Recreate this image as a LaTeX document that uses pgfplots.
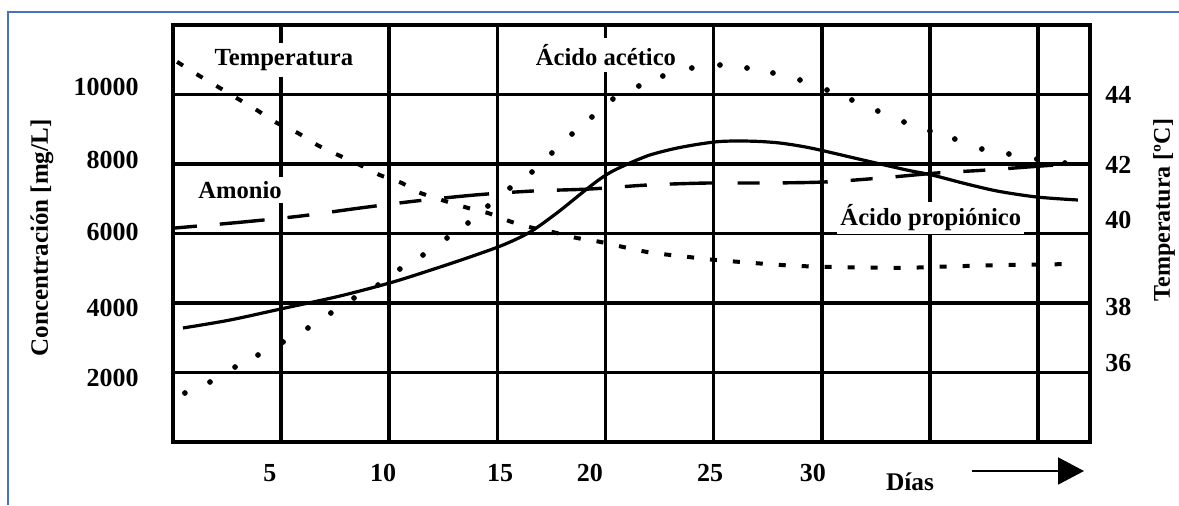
\documentclass[border=0pt]{standalone}
\usepackage{fontspec}
\setmainfont{Liberation Serif}
\usepackage{pgfplots}
\pgfplotsset{compat=1.18}
\usetikzlibrary{arrows.meta}
\definecolor{frameblue}{RGB}{68,114,196}

\pgfplotstableread{
x y
0.46 3281
2.64 3511
5.18 3856
7.72 4201
10.17 4604
12.21 5007
13.73 5324
15.26 5669
16.51 6043
17.75 6590
18.96 7194
19.74 7568
20.34 7799
21.13 8029
22.05 8259
23.21 8446
24.36 8576
25.29 8648
26.21 8662
27.14 8648
28.06 8604
28.99 8518
29.91 8403
31.90 8115
33.93 7827
35.09 7684
36.52 7453
38.10 7223
39.94 7050
41.84 6964
}\propionico

\pgfplotstableread{
x y
0.09 6158
3.24 6331
5.92 6504
8.65 6734
11.23 6935
13.96 7108
16.64 7223
19.28 7281
21.96 7396
24.73 7453
27.37 7453
30.10 7482
32.73 7597
35.32 7741
37.63 7827
40.78 7971
41.84 8000
}\amonio

\pgfplotstableread{
x y
0.55 1410
1.71 1727
2.87 2158
3.93 2504
5.09 2878
6.24 3281
7.30 3712
8.37 4144
9.48 4518
10.49 4978
11.56 5381
12.67 5871
13.64 6302
14.56 6791
15.58 7309
16.60 7770
17.52 8317
18.45 8863
19.37 9353
20.34 9870
21.54 10245
22.65 10532
23.99 10763
25.29 10849
26.54 10763
27.74 10619
28.99 10417
30.24 10130
31.39 9842
32.59 9525
33.80 9209
35.00 8950
36.15 8719
37.40 8432
38.65 8288
39.94 8144
41.24 8029
}\acetico

\pgfplotstableread{
x y
0.19 44.94
1.16 44.56
2.08 44.22
3.10 43.84
3.88 43.55
4.81 43.18
5.78 42.89
6.66 42.55
7.63 42.26
8.55 42.00
9.57 41.68
10.59 41.45
11.42 41.17
13.50 40.76
14.56 40.59
15.67 40.33
16.64 40.16
17.57 40.04
18.68 39.87
19.74 39.76
21.91 39.47
23.90 39.32
25.06 39.24
28.20 39.09
30.24 39.04
33.61 39.01
35.23 39.04
38.23 39.09
41.47 39.12
}\temperatura

\begin{document}
\begin{tikzpicture}
\useasboundingbox (0,0) rectangle (589.5pt,252.5pt);
\draw[frameblue, line width=1pt] (4pt,0) -- (4pt,246.5pt) -- (589.5pt,246.5pt);

\begin{axis}[
  at={(86.5pt,31.5pt)}, anchor=south west,
  scale only axis, width=458.5pt, height=208.5pt,
  xmin=0, xmax=42.4, ymin=0, ymax=12000,
  axis line style={line width=2.1pt},
  xtick={5,10,...,40}, xticklabels={},
  ytick={2000,4000,...,10000}, yticklabels={},
  scaled ticks=false,
  grid=major, major grid style={black, line width=1.8pt},
  major tick length=0pt,
  tick label style={font=\fontsize{13}{13}\selectfont\bfseries, inner sep=0pt},
  extra x ticks={4.48,9.71,15.13,19.28,24.83,29.59},
  extra x tick labels={5,10,15,20,25,30},
  extra x tick style={grid=none, xticklabel style={anchor=center, yshift=-15.5pt}},
  extra y ticks={1842,3856,6043,8115,10216},
  extra y tick labels={2000,4000,6000,8000,10000},
  extra y tick style={grid=none, yticklabel style={anchor=east, xshift=-17pt}},
  clip=false,
]
\addplot[black, line width=1.6pt, smooth] table {\propionico};
\addplot[black, line width=1.7pt, smooth, dash pattern=on 11pt off 11.5pt on 22.5pt off 11.5pt] table {\amonio};
\addplot[black, only marks, mark=*, mark size=1.2pt] table {\acetico};
\node[fill=white, inner sep=3pt, font=\fontsize{12.3}{12.3}\selectfont\bfseries] at (axis cs:5.13,10993) {Temperatura};
\node[fill=white, inner sep=2pt, font=\fontsize{12.3}{12.3}\selectfont\bfseries] at (axis cs:3.1,7252) {Amonio};
\node[fill=white, inner sep=3pt, font=\fontsize{12.3}{12.3}\selectfont\bfseries] at (axis cs:20.02,11137) {Ácido acético};
\node[fill=white, inner sep=1.5pt, font=\fontsize{12.3}{12.3}\selectfont\bfseries] at (axis cs:35.04,6446) {Ácido propiónico};
\end{axis}

\begin{axis}[
  at={(86.5pt,31.5pt)}, anchor=south west,
  scale only axis, width=458.5pt, height=208.5pt,
  xmin=0, xmax=42.4, ymin=34, ymax=46,
  axis x line=none, axis y line*=right,
  y axis line style={line width=2.1pt},
  ytick={36.27,37.89,40.39,41.97,44},
  yticklabels={36,38,40,42,44},
  major tick length=0pt,
  tick label style={font=\fontsize{13}{13}\selectfont\bfseries, inner sep=0pt},
  yticklabel style={anchor=west, xshift=7.5pt},
]
\addplot[black, line width=2pt, smooth, dash pattern=on 3.5pt off 8pt] table {\temperatura};
\end{axis}

\node[rotate=90, font=\fontsize{12.5}{12.5}\selectfont\bfseries] at (21pt,133.5pt) {Concentración [mg/L]};
\node[rotate=90, font=\fontsize{12}{12}\selectfont\bfseries] at (582pt,147.5pt) {Temperatura [ºC]};
\node[font=\fontsize{12.7}{12.7}\selectfont\bfseries] at (455pt,11.5pt) {Días};
\draw[line width=1pt, -{Triangle[length=13pt,width=13.5pt]}] (486pt,17pt) -- (542pt,17pt);
\end{tikzpicture}
\end{document}
